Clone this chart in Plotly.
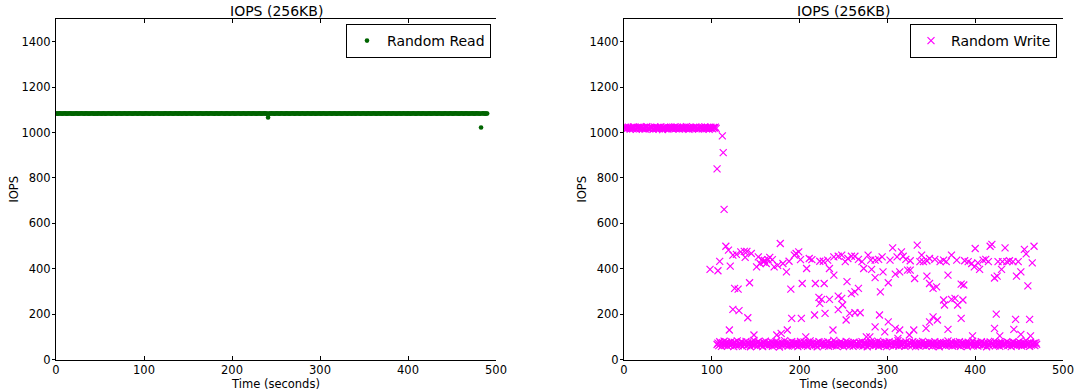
import plotly.graph_objects as go

# ---------------- data ----------------
# Random read IOPS, one sample per second from t = 0 s
read_iops = [
    1084, 1084, 1083, 1084, 1085, 1084, 1084, 1083, 1084, 1084, 1085, 1084, 1083, 1084, 1084, 1084, 1085, 1084, 1083, 1084,
    1083, 1084, 1084, 1085, 1084, 1083, 1084, 1084, 1084, 1085, 1084, 1084, 1083, 1084, 1085, 1084, 1084, 1083, 1084, 1084,
    1084, 1085, 1084, 1083, 1084, 1084, 1084, 1083, 1085, 1084, 1084, 1084, 1083, 1084, 1085, 1084, 1083, 1084, 1084, 1084,
    1085, 1084, 1084, 1083, 1084, 1084, 1085, 1084, 1084, 1083, 1084, 1084, 1085, 1084, 1083, 1084, 1084, 1084, 1085, 1084,
    1084, 1083, 1084, 1085, 1084, 1084, 1084, 1083, 1084, 1084, 1085, 1084, 1084, 1083, 1084, 1085, 1084, 1084, 1083, 1084,
    1083, 1084, 1085, 1084, 1084, 1084, 1083, 1084, 1084, 1085, 1084, 1083, 1084, 1084, 1084, 1085, 1084, 1084, 1083, 1084,
    1084, 1084, 1083, 1084, 1085, 1084, 1084, 1084, 1083, 1084, 1085, 1084, 1084, 1083, 1084, 1084, 1085, 1084, 1084, 1083,
    1085, 1084, 1084, 1083, 1084, 1084, 1085, 1084, 1083, 1084, 1084, 1084, 1085, 1084, 1083, 1084, 1084, 1085, 1084, 1084,
    1084, 1083, 1084, 1084, 1085, 1084, 1084, 1083, 1084, 1084, 1084, 1085, 1084, 1083, 1084, 1084, 1085, 1084, 1084, 1084,
    1083, 1084, 1085, 1084, 1084, 1083, 1084, 1084, 1085, 1084, 1084, 1084, 1083, 1084, 1085, 1084, 1084, 1083, 1084, 1084,
    1084, 1085, 1084, 1083, 1084, 1084, 1084, 1085, 1084, 1084, 1083, 1084, 1084, 1085, 1084, 1084, 1083, 1084, 1084, 1085,
    1084, 1084, 1083, 1084, 1085, 1084, 1084, 1084, 1083, 1084, 1084, 1085, 1084, 1083, 1084, 1084, 1084, 1085, 1084, 1083,
    1084, 1066, 1084, 1083, 1084, 1085, 1084, 1084, 1083, 1084, 1084, 1085, 1084, 1084, 1083, 1084, 1085, 1084, 1084, 1084,
    1083, 1084, 1085, 1084, 1084, 1083, 1084, 1084, 1084, 1085, 1084, 1083, 1084, 1084, 1085, 1084, 1084, 1083, 1084, 1084,
    1085, 1084, 1084, 1083, 1084, 1084, 1085, 1084, 1084, 1084, 1083, 1084, 1085, 1084, 1084, 1083, 1084, 1084, 1084, 1085,
    1084, 1083, 1084, 1084, 1085, 1084, 1084, 1083, 1084, 1084, 1084, 1085, 1084, 1083, 1084, 1084, 1085, 1084, 1084, 1083,
    1084, 1084, 1085, 1084, 1083, 1084, 1084, 1084, 1085, 1084, 1084, 1083, 1084, 1085, 1084, 1084, 1083, 1084, 1084, 1085,
    1083, 1084, 1084, 1085, 1084, 1084, 1083, 1084, 1084, 1085, 1084, 1084, 1084, 1083, 1084, 1085, 1084, 1084, 1083, 1084,
    1084, 1085, 1084, 1084, 1083, 1084, 1084, 1085, 1084, 1083, 1084, 1084, 1084, 1085, 1084, 1084, 1083, 1084, 1085, 1084,
    1084, 1083, 1084, 1085, 1084, 1084, 1084, 1083, 1084, 1084, 1085, 1084, 1083, 1084, 1084, 1085, 1084, 1084, 1084, 1083,
    1085, 1084, 1084, 1083, 1084, 1084, 1085, 1084, 1084, 1083, 1084, 1084, 1085, 1084, 1084, 1083, 1084, 1085, 1084, 1084,
    1084, 1083, 1084, 1084, 1085, 1084, 1083, 1084, 1084, 1084, 1085, 1084, 1084, 1083, 1084, 1085, 1084, 1084, 1083, 1084,
    1083, 1084, 1085, 1084, 1084, 1084, 1083, 1084, 1085, 1084, 1084, 1083, 1084, 1084, 1085, 1084, 1084, 1084, 1083, 1084,
    1084, 1085, 1084, 1083, 1084, 1084, 1085, 1084, 1084, 1083, 1084, 1084, 1084, 1085, 1084, 1083, 1084, 1084, 1085, 1084,
    1084, 1084, 1083, 1022, 1084, 1085, 1084, 1084, 1083, 1084, 1084,
]

# Random write IOPS, steady phase, one sample per second from t = 0 s
write_steady_iops = [
    1021, 1018, 1023, 1016, 1020, 1024, 1019, 1015, 1022, 1020, 1017, 1025, 1021, 1018, 1014, 1022, 1019, 1023, 1016, 1020,
    1024, 1017, 1021, 1019, 1015, 1022, 1026, 1018, 1020, 1016, 1023, 1019, 1021, 1014, 1018, 1024, 1020, 1017, 1022, 1019,
    1016, 1021, 1025, 1018, 1013, 1020, 1022, 1017, 1024, 1019, 1015, 1021, 1018, 1023, 1020, 1016, 1022, 1019, 1025, 1017,
    1020, 1023, 1018, 1015, 1021, 1019, 1024, 1016, 1022, 1018, 1020, 1026, 1017, 1021, 1014, 1019, 1023, 1020, 1016, 1022,
    1018, 1021, 1024, 1017, 1020, 1015, 1022, 1019, 1023, 1016, 1021, 1018, 1025, 1020, 1017, 1022, 1019, 1014, 1021, 1023,
    1019, 1016, 1022, 1020, 1024, 1018,
]

# Random write IOPS, throttled floor, one sample per second from t = 106 s
write_floor_iops = [
    66, 72, 61, 78, 69, 58, 74, 65, 81, 70, 63, 76, 59, 68, 73, 62, 79, 67, 71, 57,
    75, 64, 70, 82, 60, 69, 73, 66, 77, 58, 72, 63, 68, 80, 61, 74, 67, 70, 56, 76,
    65, 71, 84, 62, 69, 73, 59, 78, 66, 72, 64, 70, 57, 75, 68, 81, 63, 71, 60, 74,
    69, 65, 77, 58, 72, 67, 62, 79, 70, 64, 73, 55, 68, 76, 61, 71, 66, 83, 63, 70,
    74, 59, 67, 72, 65, 78, 60, 69, 73, 62, 75, 68, 57, 71, 64, 80, 66, 70, 61, 77,
    72, 63, 69, 58, 74, 67, 82, 65, 71, 60, 76, 68, 62, 73, 56, 70, 79, 64, 69, 66,
    71, 75, 60, 67, 73, 63, 78, 58, 70, 65, 72, 61, 68, 84, 64, 74, 59, 69, 66, 71,
    62, 77, 67, 72, 57, 70, 65, 80, 63, 74, 68, 60, 73, 66, 71, 58, 76, 64, 69, 72,
    67, 61, 75, 70, 63, 79, 59, 68, 73, 65, 71, 56, 74, 66, 62, 77, 69, 72, 60, 67,
    73, 64, 70, 81, 58, 68, 75, 63, 71, 66, 61, 76, 69, 57, 72, 65, 78, 62, 70, 67,
    74, 60, 68, 73, 64, 71, 83, 59, 66, 75, 62, 70, 67, 72, 58, 77, 65, 69, 63, 74,
    68, 71, 61, 79, 66, 73, 57, 70, 64, 76, 60, 69, 72, 65, 80, 62, 67, 74, 59, 71,
    66, 63, 75, 68, 70, 58, 73, 65, 78, 61, 69, 72, 64, 56, 76, 67, 71, 62, 74, 68,
    60, 73, 66, 82, 63, 70, 65, 77, 59, 72, 68, 61, 75, 67, 70, 64, 79, 58, 71, 66,
    73, 62, 69, 74, 65, 57, 76, 68, 71, 63, 70, 81, 60, 67, 72, 64, 75, 59, 69, 66,
    71, 78, 62, 68, 73, 65, 70, 56, 74, 67, 61, 77, 69, 72, 63, 66, 80, 60, 71, 68,
    64, 73, 58, 70, 75, 66, 62, 69, 72, 67, 79, 61, 74, 65, 70, 57, 68, 76, 63, 71,
    69, 60, 73, 66, 78, 64, 71, 59, 67, 74, 62, 70, 83, 65, 72, 68, 58, 75, 63, 69,
    66, 72, 61, 74, 67,
]

# Random write IOPS, scattered samples during and after the drop
write_burst_time = [
    106, 112, 113, 114,
    98, 107, 109, 116, 119, 121, 120, 124, 126, 130, 124, 131, 128, 133, 137, 140,
    138, 143, 141, 145, 148, 151, 153, 155, 157, 159, 160, 162, 164, 166, 169, 171,
    174, 175, 178, 179, 181, 185, 186, 190, 191, 188, 194, 196, 199, 201, 203, 202,
    208, 207, 211, 214, 218, 217, 222, 223, 223, 227,
    228, 234, 239, 234, 225, 229, 238, 232, 239, 244, 248, 252, 255, 259, 263, 267,
    271, 273, 278, 281, 282, 286, 290, 294, 254, 244, 248, 244, 249, 253, 259, 263,
    267, 257, 263, 269, 286, 292, 291, 295, 286, 276, 280, 297, 301, 301, 303, 306,
    309, 311, 314, 316, 309, 314, 312, 318, 323, 326, 321, 326, 331, 334, 330, 325,
    337, 339, 341, 345, 348, 352, 356, 344, 348, 352, 357, 345, 348, 354, 360, 364,
    367, 364, 365, 369, 369,
    373, 379, 384, 387, 373, 377, 380, 386, 384, 388, 392, 396, 400, 399, 403, 405,
    409, 412, 415, 417, 419, 422, 425, 424, 397, 422, 428, 426, 430, 431, 434, 436,
    439, 443, 446, 444, 447, 449, 452, 452, 456, 458, 460, 462, 463, 465, 467,
]
write_burst_iops = [
    840, 985, 911, 661,
    397, 391, 432, 499, 482, 411, 130, 460, 313, 310, 221, 215, 463, 474, 476, 476,
    450, 338, 184, 467, 108, 408, 452, 423, 440, 429, 437, 423, 440, 450, 440, 408,
    108, 415, 511, 115, 423, 386, 130, 310, 181, 433, 460, 467, 474, 440, 335, 181,
    401, 100, 445, 440, 335, 196, 274, 247, 433, 433,
    335, 401, 372, 265, 265, 203, 130, 438, 452, 455, 460, 431, 445, 455, 455, 441,
    431, 401, 460, 438, 397, 438, 441, 452, 343, 279, 269, 220, 240, 174, 290, 298,
    313, 203, 206, 206, 361, 298, 196, 386, 144, 100, 100, 122, 166, 338, 438, 492,
    376, 452, 386, 474, 137, 130, 93, 455, 394, 394, 441, 435, 357, 504, 130, 108,
    431, 460, 431, 367, 335, 313, 320, 137, 166, 188, 174, 435, 445, 441, 431, 438,
    431, 262, 240, 372, 133,
    460, 438, 332, 328, 265, 269, 240, 262, 181, 435, 431, 423, 489, 408, 426, 397,
    438, 441, 431, 499, 507, 359, 367, 200, 104, 137, 104, 431, 397, 431, 492, 431,
    435, 431, 177, 133, 367, 431, 111, 386, 485, 465, 324, 177, 104, 426, 499,
]

x_ticks = [0, 100, 200, 300, 400, 500]
y_ticks = [0, 200, 400, 600, 800, 1000, 1200, 1400]
panel_title = "IOPS (256KB)"
x_label = "Time (seconds)"
y_label = "IOPS"

# ---------------- assemble series ----------------
read_time = list(range(len(read_iops)))
floor_start = len(write_steady_iops)
write_time = (list(range(len(write_steady_iops)))
              + list(range(floor_start, floor_start + len(write_floor_iops)))
              + write_burst_time)
write_iops = write_steady_iops + write_floor_iops + write_burst_iops

FONT = "DejaVu Sans"
W, H = 1079, 392

fig = go.Figure()
fig.add_trace(go.Scatter(
    x=read_time, y=read_iops, mode="markers", name="Random Read", showlegend=True,
    marker=dict(symbol="circle", size=4.6, color="#006400", line=dict(width=0)),
    xaxis="x", yaxis="y", legend="legend",
))
fig.add_trace(go.Scatter(
    x=write_time, y=write_iops, mode="markers", name="Random Write", showlegend=True,
    marker=dict(symbol="x-thin", size=7, color="#ff00ff",
                line=dict(width=1.2, color="#ff00ff")),
    xaxis="x2", yaxis="y2", legend="legend2",
))

tick_font = dict(family=FONT, size=11.5, color="black")
label_font = dict(family=FONT, size=11.5, color="black")
line_common = dict(showline=True, linecolor="black", linewidth=1,
                   showgrid=False, zeroline=False, automargin=False,
                   tickwidth=1, tickcolor="black")

left_dom = [56 / W, 496 / W]
right_dom = [624 / W, 1063 / W]
y_dom = [1 - 359.5 / H, 1 - 19 / H]

def x_axis(domain, anchor):
    # bottom axis with inward ticks, mirrored along the top edge
    return dict(line_common, domain=domain, anchor=anchor, range=[0, 500],
                ticks="inside", ticklen=4, mirror="ticks",
                tickvals=x_ticks, ticktext=[str(v) for v in x_ticks], tickfont=tick_font,
                title=dict(text=x_label, font=label_font, standoff=2))

def y_axis(anchor):
    # left axis: short ticks pointing outward
    return dict(line_common, domain=y_dom, anchor=anchor, range=[0, 1500],
                ticks="outside", ticklen=3, mirror=False, ticklabelstandoff=-1,
                tickvals=y_ticks, ticktext=[str(v) for v in y_ticks], tickfont=tick_font,
                title=dict(text=y_label, font=label_font, standoff=0))

def y_right(anchor, over):
    # right frame edge: unlabeled ticks pointing inward
    return dict(line_common, domain=y_dom, anchor=anchor, overlaying=over, side="right",
                range=[0, 1500], ticks="inside", ticklen=4, tickvals=y_ticks,
                showticklabels=False)

legend_common = dict(
    font=dict(family=FONT, size=14, color="black"),
    bgcolor="white", bordercolor="black", borderwidth=1,
    xanchor="right", yanchor="top", y=1 - 24 / H,
)

fig.update_layout(
    width=W, height=H, autosize=False,
    margin=dict(l=0, r=0, t=0, b=0),
    paper_bgcolor="white", plot_bgcolor="white",
    font=dict(family=FONT, color="black"),
    showlegend=True,
    xaxis=x_axis(left_dom, "y"),
    yaxis=y_axis("x"),
    xaxis2=x_axis(right_dom, "y2"),
    yaxis2=y_axis("x2"),
    yaxis3=y_right("x", "y"),
    yaxis4=y_right("x2", "y2"),
    legend=dict(legend_common, x=491 / W),
    legend2=dict(legend_common, x=1057 / W),
    annotations=[
        dict(text=panel_title, xref="paper", yref="paper",
             x=(left_dom[0] + left_dom[1]) / 2, y=1 - 10.5 / H,
             xanchor="center", yanchor="middle", showarrow=False,
             font=dict(family=FONT, size=14, color="black")),
        dict(text=panel_title, xref="paper", yref="paper",
             x=(right_dom[0] + right_dom[1]) / 2, y=1 - 10.5 / H,
             xanchor="center", yanchor="middle", showarrow=False,
             font=dict(family=FONT, size=14, color="black")),
    ],
)

fig.write_html("out.html")
